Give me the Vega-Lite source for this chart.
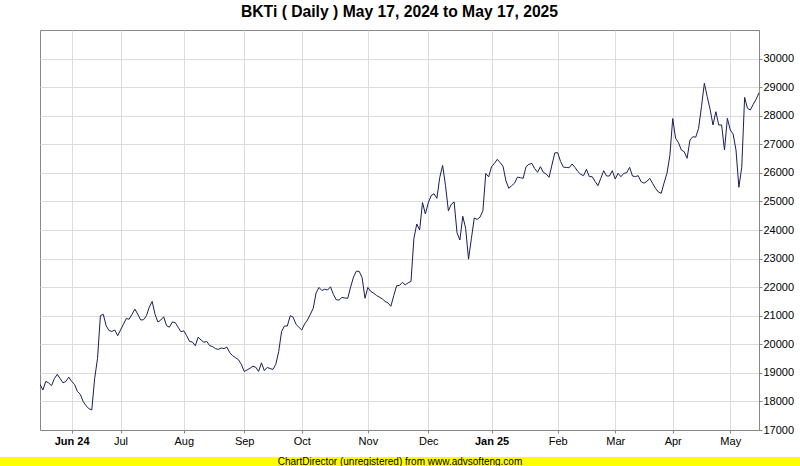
{
  "$schema": "https://vega.github.io/schema/vega-lite/v6.json",
  "width": 719,
  "height": 400,
  "autosize": {"type": "none"},
  "padding": {"left": 40, "top": 30, "right": 41, "bottom": 36},
  "background": "white",
  "title": {"text": "BKTi ( Daily ) May 17, 2024 to May 17, 2025", "font": "Liberation Sans", "fontSize": 15.7, "fontWeight": "bold", "color": "#000000", "anchor": "middle", "baseline": "alphabetic", "offset": -3},
  "config": {"view": {"stroke": "#888888", "strokeWidth": 1}},
  "layer": [
    {
      "data": {"values": [
        {"date": "2024-05-17", "close": 18600}, {"date": "2024-05-20", "close": 18400}, {"date": "2024-05-21", "close": 18700}, {"date": "2024-05-22", "close": 18650}, {"date": "2024-05-23", "close": 18550}, {"date": "2024-05-24", "close": 18800}, {"date": "2024-05-27", "close": 18950}, {"date": "2024-05-28", "close": 18800}, {"date": "2024-05-29", "close": 18650}, {"date": "2024-05-30", "close": 18700}, {"date": "2024-05-31", "close": 18850},
        {"date": "2024-06-03", "close": 18700}, {"date": "2024-06-04", "close": 18600}, {"date": "2024-06-05", "close": 18350}, {"date": "2024-06-06", "close": 18250}, {"date": "2024-06-10", "close": 18000}, {"date": "2024-06-11", "close": 17850}, {"date": "2024-06-12", "close": 17750}, {"date": "2024-06-13", "close": 17700}, {"date": "2024-06-17", "close": 18800}, {"date": "2024-06-18", "close": 19500}, {"date": "2024-06-20", "close": 21000}, {"date": "2024-06-21", "close": 21050}, {"date": "2024-06-24", "close": 20650}, {"date": "2024-06-25", "close": 20480}, {"date": "2024-06-26", "close": 20450}, {"date": "2024-06-27", "close": 20500}, {"date": "2024-06-28", "close": 20300},
        {"date": "2024-07-01", "close": 20500}, {"date": "2024-07-02", "close": 20700}, {"date": "2024-07-03", "close": 20900}, {"date": "2024-07-05", "close": 20880}, {"date": "2024-07-08", "close": 21050}, {"date": "2024-07-09", "close": 21230}, {"date": "2024-07-10", "close": 21050}, {"date": "2024-07-11", "close": 20850}, {"date": "2024-07-12", "close": 20860}, {"date": "2024-07-15", "close": 21000}, {"date": "2024-07-16", "close": 21300}, {"date": "2024-07-17", "close": 21500}, {"date": "2024-07-18", "close": 21050}, {"date": "2024-07-19", "close": 20780}, {"date": "2024-07-22", "close": 20850}, {"date": "2024-07-23", "close": 20960}, {"date": "2024-07-24", "close": 20650}, {"date": "2024-07-25", "close": 20600}, {"date": "2024-07-26", "close": 20780}, {"date": "2024-07-29", "close": 20760}, {"date": "2024-07-30", "close": 20600}, {"date": "2024-07-31", "close": 20440},
        {"date": "2024-08-01", "close": 20470}, {"date": "2024-08-02", "close": 20300}, {"date": "2024-08-05", "close": 20100}, {"date": "2024-08-06", "close": 20080}, {"date": "2024-08-07", "close": 19950}, {"date": "2024-08-08", "close": 20250}, {"date": "2024-08-12", "close": 20150}, {"date": "2024-08-13", "close": 20070}, {"date": "2024-08-14", "close": 20100}, {"date": "2024-08-15", "close": 19950}, {"date": "2024-08-16", "close": 19920}, {"date": "2024-08-19", "close": 19850}, {"date": "2024-08-20", "close": 19820}, {"date": "2024-08-21", "close": 19870}, {"date": "2024-08-22", "close": 19850}, {"date": "2024-08-23", "close": 19900}, {"date": "2024-08-26", "close": 19700}, {"date": "2024-08-27", "close": 19600}, {"date": "2024-08-28", "close": 19530}, {"date": "2024-08-29", "close": 19460}, {"date": "2024-08-30", "close": 19300},
        {"date": "2024-09-03", "close": 19050}, {"date": "2024-09-04", "close": 19100}, {"date": "2024-09-05", "close": 19160}, {"date": "2024-09-06", "close": 19230}, {"date": "2024-09-09", "close": 19200}, {"date": "2024-09-10", "close": 19050}, {"date": "2024-09-11", "close": 19350}, {"date": "2024-09-12", "close": 19080}, {"date": "2024-09-13", "close": 19190}, {"date": "2024-09-16", "close": 19150}, {"date": "2024-09-17", "close": 19120}, {"date": "2024-09-18", "close": 19300}, {"date": "2024-09-19", "close": 19750}, {"date": "2024-09-20", "close": 20450}, {"date": "2024-09-23", "close": 20640}, {"date": "2024-09-24", "close": 20640}, {"date": "2024-09-25", "close": 21000}, {"date": "2024-09-26", "close": 20950}, {"date": "2024-09-27", "close": 20700}, {"date": "2024-09-30", "close": 20600},
        {"date": "2024-10-01", "close": 20500}, {"date": "2024-10-02", "close": 20710}, {"date": "2024-10-03", "close": 20850}, {"date": "2024-10-04", "close": 21050}, {"date": "2024-10-07", "close": 21260}, {"date": "2024-10-08", "close": 21800}, {"date": "2024-10-09", "close": 21990}, {"date": "2024-10-10", "close": 21880}, {"date": "2024-10-11", "close": 21930}, {"date": "2024-10-14", "close": 21900}, {"date": "2024-10-15", "close": 22010}, {"date": "2024-10-16", "close": 21750}, {"date": "2024-10-17", "close": 21560}, {"date": "2024-10-18", "close": 21550}, {"date": "2024-10-21", "close": 21640}, {"date": "2024-10-22", "close": 21620}, {"date": "2024-10-23", "close": 21610}, {"date": "2024-10-24", "close": 22000}, {"date": "2024-10-25", "close": 22350}, {"date": "2024-10-28", "close": 22560}, {"date": "2024-10-29", "close": 22550}, {"date": "2024-10-30", "close": 22330}, {"date": "2024-10-31", "close": 21610},
        {"date": "2024-11-01", "close": 21990}, {"date": "2024-11-04", "close": 21850}, {"date": "2024-11-05", "close": 21790}, {"date": "2024-11-06", "close": 21710}, {"date": "2024-11-07", "close": 21650}, {"date": "2024-11-08", "close": 21590}, {"date": "2024-11-11", "close": 21500}, {"date": "2024-11-12", "close": 21450}, {"date": "2024-11-13", "close": 21330}, {"date": "2024-11-14", "close": 21700}, {"date": "2024-11-15", "close": 22050}, {"date": "2024-11-18", "close": 22060}, {"date": "2024-11-19", "close": 22170}, {"date": "2024-11-20", "close": 22080}, {"date": "2024-11-21", "close": 22150}, {"date": "2024-11-22", "close": 22200}, {"date": "2024-11-25", "close": 23700}, {"date": "2024-11-26", "close": 24210}, {"date": "2024-11-27", "close": 24000}, {"date": "2024-11-28", "close": 24960}, {"date": "2024-11-29", "close": 24560},
        {"date": "2024-12-02", "close": 24950}, {"date": "2024-12-03", "close": 25200}, {"date": "2024-12-04", "close": 25270}, {"date": "2024-12-05", "close": 25110}, {"date": "2024-12-06", "close": 25840}, {"date": "2024-12-09", "close": 26260}, {"date": "2024-12-10", "close": 25550}, {"date": "2024-12-11", "close": 24670}, {"date": "2024-12-12", "close": 24900}, {"date": "2024-12-13", "close": 24980}, {"date": "2024-12-16", "close": 23900}, {"date": "2024-12-17", "close": 23650}, {"date": "2024-12-18", "close": 24480}, {"date": "2024-12-19", "close": 24060}, {"date": "2024-12-20", "close": 22980}, {"date": "2024-12-23", "close": 23700}, {"date": "2024-12-24", "close": 24420}, {"date": "2024-12-25", "close": 24370}, {"date": "2024-12-26", "close": 24450}, {"date": "2024-12-27", "close": 24670}, {"date": "2024-12-30", "close": 25980}, {"date": "2024-12-31", "close": 25860},
        {"date": "2025-01-01", "close": 26215}, {"date": "2025-01-02", "close": 26330}, {"date": "2025-01-03", "close": 26475}, {"date": "2025-01-06", "close": 26355}, {"date": "2025-01-07", "close": 26230}, {"date": "2025-01-08", "close": 25720}, {"date": "2025-01-09", "close": 25460}, {"date": "2025-01-10", "close": 25550}, {"date": "2025-01-13", "close": 25640}, {"date": "2025-01-14", "close": 25850}, {"date": "2025-01-15", "close": 25830}, {"date": "2025-01-16", "close": 25810}, {"date": "2025-01-17", "close": 26215}, {"date": "2025-01-20", "close": 26300}, {"date": "2025-01-21", "close": 26330}, {"date": "2025-01-22", "close": 26150}, {"date": "2025-01-23", "close": 26020}, {"date": "2025-01-24", "close": 26215}, {"date": "2025-01-27", "close": 26020}, {"date": "2025-01-28", "close": 25960}, {"date": "2025-01-29", "close": 25845}, {"date": "2025-01-30", "close": 26275}, {"date": "2025-01-31", "close": 26700},
        {"date": "2025-02-03", "close": 26705}, {"date": "2025-02-04", "close": 26400}, {"date": "2025-02-05", "close": 26200}, {"date": "2025-02-06", "close": 26190}, {"date": "2025-02-07", "close": 26180}, {"date": "2025-02-10", "close": 26310}, {"date": "2025-02-11", "close": 26195}, {"date": "2025-02-12", "close": 26050}, {"date": "2025-02-13", "close": 25950}, {"date": "2025-02-14", "close": 25900}, {"date": "2025-02-17", "close": 26125}, {"date": "2025-02-18", "close": 25870}, {"date": "2025-02-19", "close": 25865}, {"date": "2025-02-20", "close": 25700}, {"date": "2025-02-21", "close": 25550}, {"date": "2025-02-24", "close": 25810}, {"date": "2025-02-25", "close": 26075}, {"date": "2025-02-26", "close": 25890}, {"date": "2025-02-27", "close": 25890}, {"date": "2025-02-28", "close": 26075},
        {"date": "2025-03-03", "close": 25785}, {"date": "2025-03-04", "close": 25985}, {"date": "2025-03-05", "close": 25865}, {"date": "2025-03-06", "close": 25985}, {"date": "2025-03-07", "close": 26005}, {"date": "2025-03-10", "close": 26195}, {"date": "2025-03-11", "close": 25890}, {"date": "2025-03-12", "close": 25870}, {"date": "2025-03-13", "close": 25900}, {"date": "2025-03-14", "close": 25690}, {"date": "2025-03-17", "close": 25640}, {"date": "2025-03-18", "close": 25700}, {"date": "2025-03-19", "close": 25810}, {"date": "2025-03-20", "close": 25635}, {"date": "2025-03-21", "close": 25460}, {"date": "2025-03-24", "close": 25330}, {"date": "2025-03-25", "close": 25285}, {"date": "2025-03-26", "close": 25650}, {"date": "2025-03-27", "close": 25985}, {"date": "2025-03-28", "close": 26600},
        {"date": "2025-04-01", "close": 27900}, {"date": "2025-04-02", "close": 27210}, {"date": "2025-04-03", "close": 27055}, {"date": "2025-04-04", "close": 26800}, {"date": "2025-04-07", "close": 26740}, {"date": "2025-04-08", "close": 26510}, {"date": "2025-04-09", "close": 27150}, {"date": "2025-04-10", "close": 27265}, {"date": "2025-04-11", "close": 27250}, {"date": "2025-04-14", "close": 27560}, {"date": "2025-04-15", "close": 28315}, {"date": "2025-04-16", "close": 29135}, {"date": "2025-04-17", "close": 28665}, {"date": "2025-04-21", "close": 28225}, {"date": "2025-04-22", "close": 27675}, {"date": "2025-04-23", "close": 28140}, {"date": "2025-04-24", "close": 27675}, {"date": "2025-04-25", "close": 27675}, {"date": "2025-04-28", "close": 26800}, {"date": "2025-04-29", "close": 27910},
        {"date": "2025-05-01", "close": 27500}, {"date": "2025-05-02", "close": 27360}, {"date": "2025-05-05", "close": 26800}, {"date": "2025-05-06", "close": 25495}, {"date": "2025-05-07", "close": 26195}, {"date": "2025-05-08", "close": 28640}, {"date": "2025-05-12", "close": 28260}, {"date": "2025-05-13", "close": 28200}, {"date": "2025-05-14", "close": 28400}, {"date": "2025-05-15", "close": 28575}, {"date": "2025-05-16", "close": 28805}
      ]},
      "mark": {"type": "line", "color": "#1c1c5c", "strokeWidth": 1, "clip": true},
      "encoding": {
        "x": {"field": "date", "type": "ordinal", "scale": {"type": "point", "padding": 0},
          "axis": {"title": null, "labelAngle": 0,
            "values": ["2024-06-03", "2024-07-01", "2024-08-01", "2024-09-03", "2024-10-01", "2024-11-01", "2024-12-02", "2025-01-01", "2025-02-03", "2025-03-03", "2025-04-01", "2025-05-01"],
            "labelExpr": "datum.value == '2024-06-03' ? 'Jun 24' : (datum.value == '2025-01-01' ? 'Jan 25' : utcFormat(toDate(datum.value), '%b'))",
            "labelFontWeight": {"condition": {"test": "datum.value == '2024-06-03' || datum.value == '2025-01-01'", "value": "bold"}, "value": "normal"},
            "grid": true, "gridColor": "#dcdcdc", "gridWidth": 1,
            "domainColor": "#888888", "tickColor": "#888888", "tickSize": 3,
            "labelFont": "Liberation Sans", "labelFontSize": 11, "labelColor": "#000000", "labelPadding": 2}},
        "y": {"field": "close", "type": "quantitative", "scale": {"domain": [17000, 31000], "nice": false, "zero": false},
          "axis": {"title": null, "orient": "right",
            "values": [17000, 18000, 19000, 20000, 21000, 22000, 23000, 24000, 25000, 26000, 27000, 28000, 29000, 30000],
            "format": "d", "grid": true, "gridColor": "#dcdcdc", "gridWidth": 1,
            "domainColor": "#888888", "tickColor": "#888888", "tickSize": 3,
            "labelFont": "Liberation Sans", "labelFontSize": 11, "labelColor": "#000000", "labelPadding": 1}}
      }
    },
    {
      "data": {"values": [{"label": "ChartDirector (unregistered) from www.advsofteng.com"}]},
      "layer": [
        {"mark": {"type": "rect", "color": "#ffff00"},
         "encoding": {"x": {"value": -40}, "x2": {"value": 760}, "y": {"value": 427}, "y2": {"value": 436}}},
        {"mark": {"type": "text", "font": "Liberation Sans", "fontSize": 10, "align": "center", "baseline": "middle", "color": "#000000"},
         "encoding": {"x": {"value": 360}, "y": {"value": 431.5}, "text": {"field": "label"}}}
      ]
    }
  ]
}
